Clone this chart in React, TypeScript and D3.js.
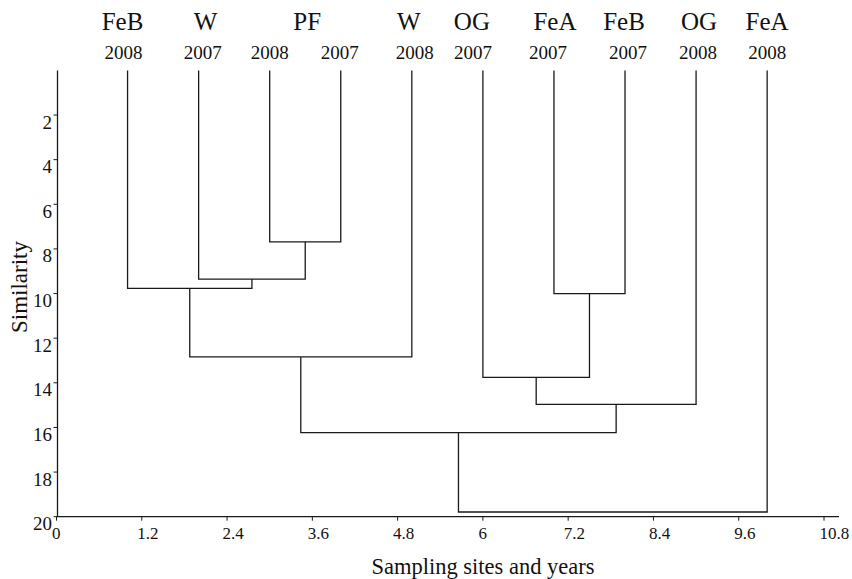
import React from "react";
import * as d3 from "d3";

// ---- data ----
const leafSites = ["FeB", "W", "PF", "PF", "W", "OG", "FeA", "FeB", "OG", "FeA"];
const leafYears = ["2008", "2007", "2008", "2007", "2008", "2007", "2007", "2007", "2008", "2008"];
// site name groups at the top (PF spans two leaves)
const siteNames = ["FeB", "W", "PF", "W", "OG", "FeA", "FeB", "OG", "FeA"];
const siteLeaves = [[0], [1], [2, 3], [4], [5], [6], [7], [8], [9]];
// merges: [childA, childB, similarity]; leaves are 0..9, clusters numbered from 10
const merges: [number, number, number][] = [
  [2, 3, 7.68],
  [1, 10, 9.35],
  [0, 11, 9.77],
  [12, 4, 12.84],
  [6, 7, 10.0],
  [5, 14, 13.76],
  [15, 8, 14.97],
  [13, 16, 16.23],
  [17, 9, 19.79],
];
const xTicks = [0, 1.2, 2.4, 3.6, 4.8, 6, 7.2, 8.4, 9.6, 10.8];
const yTicks = [2, 4, 6, 8, 10, 12, 14, 16, 18, 20];

// ---- layout ----
const W = 852;
const H = 579;
const FONT = "'Liberation Serif', 'Times New Roman', Times, serif";
const nameDx = [-5, 7, 2, -3, -11, 1, -1, 3, 0];
const yearDx = [-4, 4, 0, -1, 3, -10, -6, 3, 2, 0];

export default function App() {
  const x = d3.scaleLinear().domain([0, 10.8]).range([56.5, 824]);
  const y = d3.scaleLinear().domain([0, 20]).range([70.4, 516.7]);

  const nodeX: number[] = leafSites.map((_, i) => i + 1);
  const nodeH: number[] = leafSites.map(() => 0);
  const segs: string[] = [];
  merges.forEach(([a, b, h]) => {
    const xa = nodeX[a];
    const xb = nodeX[b];
    const p = d3.path();
    p.moveTo(x(xa), y(nodeH[a]));
    p.lineTo(x(xa), y(h));
    p.lineTo(x(xb), y(h));
    p.lineTo(x(xb), y(nodeH[b]));
    segs.push(p.toString());
    nodeX.push((xa + xb) / 2);
    nodeH.push(h);
  });

  const axisY0 = y(0);
  const axisY1 = y(20);
  const axisX = 57.5;
  const stroke = "#1a1a1a";

  return (
    <svg
      width={W}
      height={H}
      style={{ position: "absolute", left: 0, top: 0, background: "#fff" }}
      fontFamily={FONT}
    >
      <rect width={W} height={H} fill="#fff" />
      {/* dendrogram */}
      {segs.map((d, i) => (
        <path key={i} d={d} fill="none" stroke={stroke} strokeWidth={1.3} />
      ))}

      {/* y axis */}
      <line x1={axisX} x2={axisX} y1={axisY0} y2={axisY1} stroke={stroke} strokeWidth={1.3} />
      {yTicks.map((t) => (
        <g key={t}>
          <line x1={axisX - 4} x2={axisX} y1={y(t)} y2={y(t)} stroke={stroke} strokeWidth={1} />
          <text x={52} y={y(t) + 13.5} fontSize={19} textAnchor="end" fill="#111">
            {t}
          </text>
        </g>
      ))}
      <text
        transform={`translate(27,${287}) rotate(-90)`}
        fontSize={23}
        textAnchor="middle"
        fill="#111"
      >
        Similarity
      </text>

      {/* x axis */}
      <line x1={56.5} x2={839} y1={axisY1} y2={axisY1} stroke={stroke} strokeWidth={1.3} />
      {xTicks.map((t) => (
        <g key={t}>
          <line x1={x(t)} x2={x(t)} y1={axisY1} y2={axisY1 + 4} stroke={stroke} strokeWidth={1} />
          <text x={x(t) - 4.5} y={539} fontSize={17} textAnchor="start" fill="#111">
            {t}
          </text>
        </g>
      ))}
      <text x={483} y={574} fontSize={22.5} textAnchor="middle" fill="#111">
        Sampling sites and years
      </text>

      {/* top labels */}
      {siteNames.map((n, i) => {
        const cx = d3.mean(siteLeaves[i], (l) => x(l + 1)) as number;
        return (
          <text key={"n" + i} x={cx + nameDx[i]} y={30} fontSize={25} textAnchor="middle" fill="#111">
            {n}
          </text>
        );
      })}
      {leafYears.map((yr, i) => (
        <text key={"y" + i} x={x(i + 1) + yearDx[i]} y={59} fontSize={19} textAnchor="middle" fill="#111">
          {yr}
        </text>
      ))}
    </svg>
  );
}
